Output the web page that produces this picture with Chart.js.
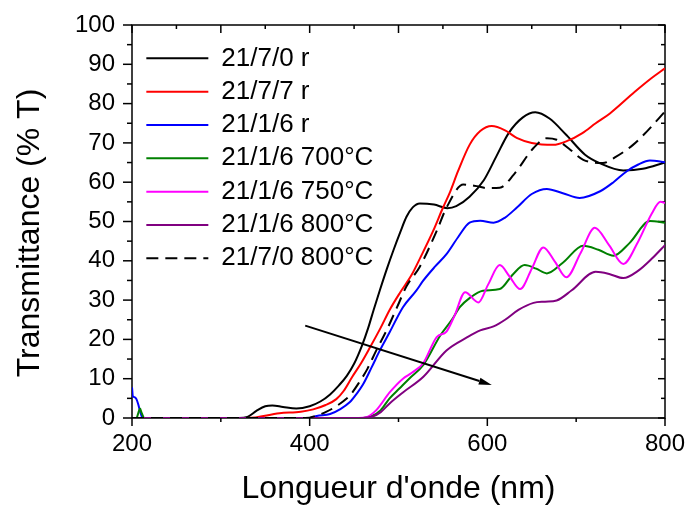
<!DOCTYPE html>
<html>
<head>
<meta charset="utf-8">
<script src="https://cdn.jsdelivr.net/npm/chart.js@4"></script>
<style>
  html, body { margin: 0; padding: 0; background: #fff; }
</style>
</head>
<body>
<canvas id="spectra" width="689" height="508"></canvas>
<script>
//-----------------------------------------------------------------------------
// values (wavelength in nm, T in %)
//-----------------------------------------------------------------------------
const seriesNames = ['21/7/0 r', '21/7/7 r', '21/1/6 r', '21/1/6 700°C', '21/1/6 750°C', '21/1/6 800°C', '21/7/0 800°C'];

const nm2170r = [200, 320, 330, 340, 350, 358, 370, 385, 400, 412, 423, 433, 442, 450, 459, 466, 472, 479, 487, 494, 502, 509, 516, 524, 540, 555, 565, 580, 596, 610, 624, 640, 654, 670, 689, 710, 727, 753, 775, 800];
const t2170r  = [0, 0, 0.3, 1.8, 3.0, 3.2, 2.8, 2.4, 3.0, 4.2, 6.0, 8.3, 10.8, 13.8, 18.5, 23, 27.5, 32.5, 38, 42.5, 47.3, 51.2, 53.6, 54.6, 54.3, 53.4, 53.9, 56.3, 60.5, 66.5, 72.5, 76.5, 77.8, 76.2, 72, 67, 64.8, 63, 63.4, 65];

const nm2177r = [200, 330, 366, 390, 404, 418, 430, 438, 448, 458, 468, 480, 490, 502, 515, 525, 539, 550, 558, 567, 580, 592, 605, 620, 633, 650, 674, 690, 707, 722, 738, 766, 785, 800];
const t2177r  = [0, 0, 1.2, 1.6, 2.2, 3.3, 4.8, 6.8, 10.5, 14, 18, 23, 27.5, 32, 36.5, 41, 47.6, 53.5, 57.5, 62.8, 69.5, 73, 74.3, 73.2, 71.3, 70, 69.5, 70.5, 72.5, 75, 77.5, 83, 86.5, 89];

const nm2116r = [200, 201, 203, 205, 207, 209, 212, 400, 408, 423, 434, 445, 453, 460, 470, 479, 490, 505, 520, 528, 541, 554, 567, 580, 592, 607, 620, 633, 650, 667, 685, 704, 727, 742, 757, 770, 783, 800];
const t2116r  = [7.8, 5.5, 5.3, 4.8, 3.5, 1.8, 0, 0, 0.5, 1, 2.2, 4, 6.2, 8.5, 13, 17.2, 21.8, 28.2, 32.4, 35, 38.5, 41.7, 46, 49.7, 50.2, 49.7, 51, 53.5, 57, 58.3, 57.2, 56, 57.7, 60, 62.8, 64.5, 65.5, 65.1];

const nm2116_700 = [200, 205, 207, 209, 211, 214, 460, 470, 480, 490, 501, 512, 528, 547, 560, 569, 580, 595, 614, 629, 642, 655, 667, 685, 708, 725, 742, 760, 783, 800];
const t2116_700  = [0, 0, 1.2, 2.4, 1.2, 0, 0, 0.5, 2, 5, 7.5, 10, 13.5, 21, 25, 28.2, 30.5, 32.4, 32.8, 36.6, 38.9, 38, 36.8, 39.5, 43.8, 42.8, 41.3, 44.5, 50.1, 49.7];

const nm2116_750 = [200, 455, 465, 475, 490, 505, 515, 528, 543, 554, 563, 575, 590, 601, 614, 625, 637, 650, 663, 676, 689, 705, 721, 737, 753, 770, 785, 795, 800];
const t2116_750  = [0, 0, 0.3, 2, 6.5, 10, 11.5, 14, 20.6, 22, 26, 32, 29.4, 34, 38.9, 36, 32.8, 38, 43.4, 39.8, 35.8, 42, 48.4, 44, 39.2, 45, 52, 55, 54.7];

const nm2116_800 = [200, 460, 470, 480, 490, 505, 528, 554, 577, 592, 607, 620, 635, 652, 665, 678, 695, 722, 738, 753, 770, 785, 800];
const t2116_800  = [0, 0, 0.3, 1.5, 3.7, 6.5, 10.5, 17.2, 20.5, 22.3, 23.3, 25, 27.5, 29.3, 29.6, 29.9, 32.5, 37.2, 36.6, 35.6, 37.5, 40.5, 44];

const nm2170_800 = [200, 395, 410, 419, 430, 442, 447, 455, 465, 475, 487, 498, 509, 524, 543, 554, 573, 588, 600, 614, 630, 652, 667, 678, 692, 708, 730, 745, 764, 780, 800];
const t2170_800  = [0, 0, 0.8, 1.6, 3, 5, 6.2, 8.8, 12.5, 17.2, 22.5, 28, 33.5, 38.5, 47.6, 53.5, 59.4, 59, 58.5, 58.6, 62, 68.7, 71.2, 70.8, 68.5, 65.7, 64.9, 66.5, 69.5, 73, 78];

// arrow across the curves (from, to) in data units
const arrowFrom = [395, 23.5];
const arrowTo   = [605, 8.4];

const yTitle = 'Transmittance (% T)';
const xTitle = "Longueur d'onde (nm)";

const FONT = '"Liberation Sans", Arial, sans-serif';

//-----------------------------------------------------------------------------
// pairs the x / y arrays into points for chart.js
//-----------------------------------------------------------------------------
function toPoints(xs, ys) {
    return xs.map((x, i) => ({ x: x, y: ys[i] }));
}

const curves = [
    [nm2170r,    t2170r,    '#000000', []],
    [nm2177r,    t2177r,    '#ff0000', []],
    [nm2116r,    t2116r,    '#0000ff', []],
    [nm2116_700, t2116_700, '#008000', []],
    [nm2116_750, t2116_750, '#ff00ff', []],
    [nm2116_800, t2116_800, '#800080', []],
    [nm2170_800, t2170_800, '#000000', [12, 7]],
];

const datasets = curves.map((c, i) => ({
    label: seriesNames[i],
    data: toPoints(c[0], c[1]),
    borderColor: c[2],
    backgroundColor: c[2],
    borderDash: c[3],
    borderWidth: 2,
    pointRadius: 0,
    cubicInterpolationMode: 'monotone',
    order: -i            // later curves drawn on top
}));

//-----------------------------------------------------------------------------
// legend items: keep the dash and width of the curve itself
//-----------------------------------------------------------------------------
function legendLines(chart) {
    return Chart.defaults.plugins.legend.labels.generateLabels(chart).map(label => ({
        ...label,
        lineDash: chart.data.datasets[label.datasetIndex].borderDash,
        lineWidth: 2
    }));
}

//-----------------------------------------------------------------------------
// box around the plot with the small tick marks (outside left/bottom, inside top/right)
//-----------------------------------------------------------------------------
const frameTicks = {
    id: 'frameTicks',
    beforeDatasetsDraw(chart) {
        const { ctx, chartArea: a, scales: { x, y } } = chart;
        ctx.save();
        ctx.strokeStyle = '#000';
        ctx.lineWidth = 1.5;
        ctx.strokeRect(a.left, a.top, a.right - a.left, a.bottom - a.top);

        const seg = (x1, y1, x2, y2) => {
            ctx.beginPath();
            ctx.moveTo(x1, y1);
            ctx.lineTo(x2, y2);
            ctx.stroke();
        };

        for (let v = 0; v <= 100; v += 5) {
            const py = y.getPixelForValue(v);
            const major = v % 10 === 0;
            seg(a.left - (major ? 9 : 5), py, a.left, py);
            seg(a.right - (major ? 7 : 4), py, a.right, py);
        }
        for (let v = 200; v <= 800; v += 100) {
            const px = x.getPixelForValue(v);
            seg(px, a.bottom, px, a.bottom + (v % 200 === 0 ? 8 : 4));
        }
        for (let v = 200; v <= 800; v += 50) {
            const px = x.getPixelForValue(v);
            seg(px, a.top, px, a.top + (v % 100 === 0 ? 8 : 4));
        }

        // y axis title, a bit below the middle of the axis like the original
        ctx.fillStyle = '#000';
        ctx.font = '32px ' + FONT;
        ctx.textAlign = 'center';
        ctx.textBaseline = 'middle';
        ctx.translate(30, (a.top + a.bottom) / 2 + 11.5);
        ctx.rotate(-Math.PI / 2);
        ctx.fillText(yTitle, 0, 0);
        ctx.restore();
    }
};

//-----------------------------------------------------------------------------
// the black arrow, in data coordinates
//-----------------------------------------------------------------------------
const arrowPlugin = {
    id: 'arrow',
    afterDatasetsDraw(chart) {
        const { ctx, scales: { x, y } } = chart;
        const x1 = x.getPixelForValue(arrowFrom[0]), y1 = y.getPixelForValue(arrowFrom[1]);
        const x2 = x.getPixelForValue(arrowTo[0]),   y2 = y.getPixelForValue(arrowTo[1]);
        const ang = Math.atan2(y2 - y1, x2 - x1);
        const len = 13, half = 3.5;
        const bx = x2 - Math.cos(ang) * len, by = y2 - Math.sin(ang) * len;

        ctx.save();
        ctx.strokeStyle = '#000';
        ctx.fillStyle = '#000';
        ctx.lineWidth = 2;
        ctx.beginPath();
        ctx.moveTo(x1, y1);
        ctx.lineTo(bx, by);
        ctx.stroke();
        ctx.beginPath();
        ctx.moveTo(x2, y2);
        ctx.lineTo(bx - Math.sin(ang) * half, by + Math.cos(ang) * half);
        ctx.lineTo(bx + Math.sin(ang) * half, by - Math.cos(ang) * half);
        ctx.closePath();
        ctx.fill();
        ctx.restore();
    }
};

// put the legend inside the plot box, a little below its top
const legendNudge = {
    id: 'legendNudge',
    afterLayout(chart) {
        const a = chart.chartArea;
        chart.legend.left = a.left + 7;
        chart.legend.top = a.top + 13;
        chart.legend.bottom = a.bottom;
    }
};

Chart.defaults.font.family = FONT;
Chart.defaults.color = '#000';

new Chart(document.getElementById('spectra').getContext('2d'), {
    type: 'line',
    data: { datasets: datasets },
    plugins: [frameTicks, arrowPlugin, legendNudge],
    options: {
        responsive: false,
        animation: false,
        layout: {
            padding: { top: 25, right: 24, left: 0, bottom: 0 }
        },
        plugins: {
            legend: {
                position: 'chartArea',
                align: 'start',
                labels: {
                    usePointStyle: true,
                    pointStyle: 'line',
                    pointStyleWidth: 62,
                    padding: 7.33,
                    color: '#000',
                    font: { size: 26, family: FONT },
                    generateLabels: legendLines,
                    sort: (a, b) => a.datasetIndex - b.datasetIndex
                }
            },
            tooltip: { enabled: false }
        },
        scales: {
            x: {
                type: 'linear',
                min: 200,
                max: 800,
                border: { display: false },
                grid: { display: false, drawTicks: false },
                ticks: {
                    stepSize: 200,
                    padding: 12,
                    maxRotation: 0,
                    color: '#000',
                    font: { size: 24 }
                },
                title: {
                    display: true,
                    text: xTitle,
                    color: '#000',
                    font: { size: 32 },
                    padding: { top: 0, bottom: 0 }
                },
                afterFit: (scale) => {
                    scale.height = 90;
                    scale.paddingLeft = 0;
                    scale.paddingRight = 0;
                }
            },
            y: {
                min: 0,
                max: 100,
                border: { display: false },
                grid: { display: false, drawTicks: false },
                ticks: {
                    stepSize: 10,
                    padding: 17,
                    color: '#000',
                    font: { size: 24 }
                },
                afterFit: (scale) => {
                    scale.width = 132;
                    scale.paddingTop = 0;
                    scale.paddingBottom = 0;
                }
            }
        }
    }
});
</script>
</body>
</html>
